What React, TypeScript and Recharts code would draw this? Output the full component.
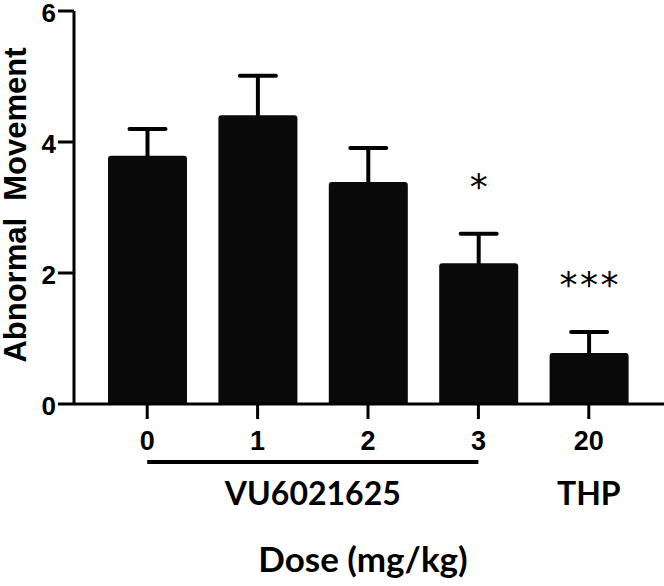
import React from 'react';
import { BarChart, Bar, XAxis, YAxis, LabelList, Rectangle } from 'recharts';

const doses = ['0', '1', '2', '3', '20'];
const means = [3.79, 4.41, 3.39, 2.15, 0.78];
const sems = [0.41, 0.6, 0.52, 0.45, 0.32];
const sig = ['', '', '', '*', '***'];
const groupNames = ['VU6021625', 'THP'];
const groupOf = [0, 0, 0, 0, 1];
const yTicks = [0, 2, 4, 6];

const data = doses.map((d, i) => ({
  dose: d,
  mean: means[i],
  sem: sems[i],
  sig: sig[i],
}));

const W = 664;
const H = 586;
const Y_AXIS_W = 74;
const PAD_L = 18;
const PAD_R = 20;
const STEP = (W - Y_AXIS_W - PAD_L - PAD_R) / doses.length;

const SANS = '"Liberation Sans", Arial, sans-serif';
const LATO = 'Lato, "Noto Sans", sans-serif';
const DEJAVU = '"DejaVu Sans", sans-serif';

function DoseTick(props: any) {
  const { x, y, payload, index } = props;
  const g = groupOf[index];
  const members = groupOf.map((v, i) => (v === g ? i : -1)).filter((i) => i >= 0);
  const first = members[0];
  const last = members[members.length - 1];
  const isFirst = index === first;
  const center = x + ((first + last) / 2 - index) * STEP;
  return (
    <g>
      <text
        x={x}
        y={y + 29}
        textAnchor="middle"
        fontFamily={SANS}
        fontWeight="bold"
        fontSize={27}
        fill="#000"
      >
        {payload.value}
      </text>
      {isFirst && last > first && (
        <line
          x1={x}
          x2={x + (last - first) * STEP}
          y1={y + 41}
          y2={y + 41}
          stroke="#000"
          strokeWidth={4}
        />
      )}
      {isFirst && (
        <text
          x={center}
          y={y + 84}
          textAnchor="middle"
          fontFamily={LATO}
          fontWeight="bold"
          fontSize={32}
          fill="#000"
        >
          {groupNames[g]}
        </text>
      )}
    </g>
  );
}

function YTick(props: any) {
  const { x, y, payload } = props;
  return (
    <text
      x={x}
      y={y + 11}
      textAnchor="end"
      fontFamily={SANS}
      fontWeight="bold"
      fontSize={26}
      fill="#000"
    >
      {payload.value}
    </text>
  );
}

function BarWithError(props: any) {
  const { x, y, width, height, payload } = props;
  const px = height / payload.mean;
  const errTop = y - payload.sem * px;
  const cx = x + width / 2;
  return (
    <g>
      <line x1={cx} x2={cx} y1={y + 2} y2={errTop} stroke="#000" strokeWidth={4} />
      <line
        x1={cx - 18}
        x2={cx + 18}
        y1={errTop}
        y2={errTop}
        stroke="#000"
        strokeWidth={4}
        strokeLinecap="round"
      />
      <Rectangle x={x} y={y} width={width} height={height} radius={[3, 3, 0, 0]} fill="#0a0a0a" />
    </g>
  );
}

function SigLabel(props: any) {
  const { x, y, width, height, index, value } = props;
  if (!value) return null;
  const px = height / means[index];
  const errTop = y - sems[index] * px;
  return (
    <text
      x={x + width / 2}
      y={errTop - 35}
      dx={1.25}
      textAnchor="middle"
      fontFamily={DEJAVU}
      fontSize={36}
      letterSpacing={2.5}
      fill="#000"
    >
      {value}
    </text>
  );
}

export default function App() {
  return (
    <div style={{ position: 'absolute', left: 0, top: 0, background: '#fff' }}>
      <BarChart
        width={W}
        height={H}
        data={data}
        margin={{ top: 11, right: 0, left: 0, bottom: 0 }}
        barSize={79}
      >
        <XAxis
          dataKey="dose"
          height={182}
          padding={{ left: PAD_L, right: PAD_R }}
          axisLine={{ stroke: '#000', strokeWidth: 3 }}
          tickLine={{ stroke: '#000', strokeWidth: 3 }}
          tickSize={15}
          tick={<DoseTick />}
          interval={0}
          label={() => (
            <text
              x={363}
              y={572}
              textAnchor="middle"
              fontFamily={LATO}
              fontWeight="bold"
              fontSize={35}
              fill="#000"
            >
              Dose (mg/kg)
            </text>
          )}
        />
        <YAxis
          width={Y_AXIS_W}
          domain={[0, 6]}
          ticks={yTicks}
          axisLine={{ stroke: '#000', strokeWidth: 3 }}
          tickLine={{ stroke: '#000', strokeWidth: 3 }}
          tickSize={16}
          tick={<YTick />}
          label={() => (
            <text
              x={26}
              y={205}
              transform="rotate(-90 26 205)"
              textAnchor="middle"
              fontFamily={SANS}
              fontWeight="bold"
              fontSize={31}
              fill="#000"
            >
              {'Abnormal\u00A0\u00A0Movement'}
            </text>
          )}
        />
        <Bar dataKey="mean" shape={<BarWithError />} isAnimationActive={false}>
          <LabelList dataKey="sig" content={<SigLabel />} />
        </Bar>
      </BarChart>
    </div>
  );
}
